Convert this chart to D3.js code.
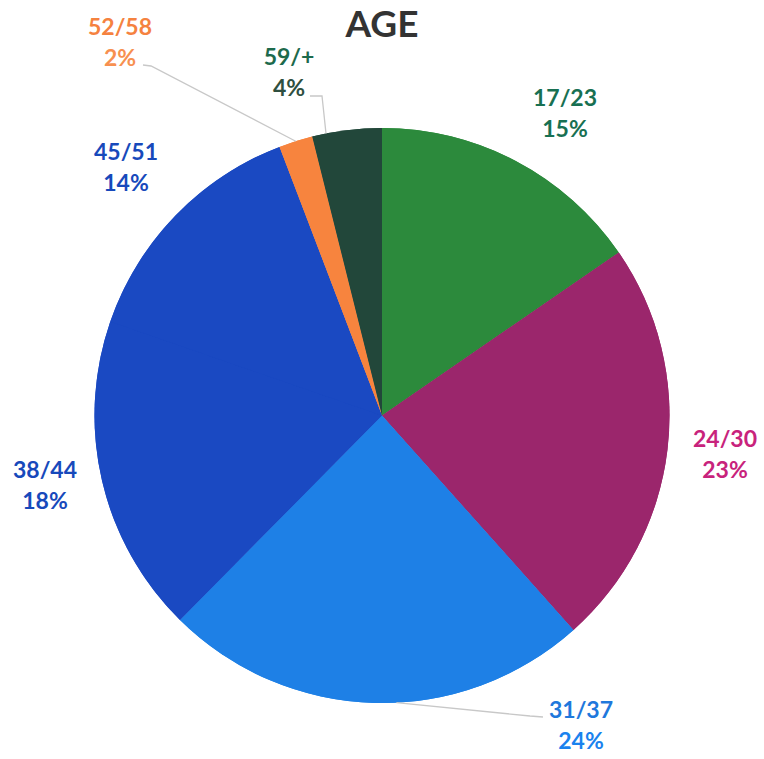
<!DOCTYPE html>
<html>
<head>
<meta charset="utf-8">
<script src="https://cdn.jsdelivr.net/npm/d3@7"></script>
<style>
  body { margin: 0; background: #fff; }
  svg text { font-family: Lato, "Open Sans", sans-serif; font-weight: bold; }
</style>
</head>
<body>
<div id="chart"></div>
<script>
// age groups, clockwise from 12 o'clock
let ageGroups = ['17/23', '24/30', '31/37', '38/44', '45/51', '52/58', '59/+'];
let shares = [15.4, 23.0, 24.0, 17.9, 13.9, 1.9, 3.9]; // % of respondents
let sliceColors = ['#2c8a3c', '#9b266c', '#1e80e6', '#1a49c2', '#1a49c2', '#f7843e', '#22473a'];
let labelColors = ['#187052', '#c8237c', '#1f78dc', '#1749bb', '#1749bb', '#f5823f', '#1d6a4c'];
let pctColors = ['#187052', '#c8237c', '#1a82ee', '#1749bb', '#1749bb', '#f79050', '#2f4f40'];
// label anchor (centre of the two text lines)
let labelPos = [[565, 106], [725, 447], [581, 718], [45, 478], [126, 160], [120, 35], [289, 65]];

let width = 764, height = 759;
let cx = 382, cy = 415.5, r = 287.5;

let svg = d3.select('#chart').append('svg')
    .attr('width', width)
    .attr('height', height);

let data = ageGroups.map((g, i) => ({ group: g, value: shares[i], i: i }));

let pie = d3.pie().sort(null).value(d => d.value);
let arc = d3.arc().innerRadius(0).outerRadius(r);
let arcs = pie(data);

let g = svg.append('g').attr('transform', `translate(${cx},${cy})`);

// neighbouring slices with the same colour are drawn as one piece too,
// so no antialiased seam shows between them
let runs = [];
arcs.forEach(a => {
    let c = sliceColors[a.data.i];
    let last = runs[runs.length - 1];
    if (last && last.color === c) last.endAngle = a.endAngle;
    else runs.push({ color: c, startAngle: a.startAngle, endAngle: a.endAngle });
});
g.selectAll('path.run').data(runs).enter().append('path')
    .attr('class', 'run')
    .attr('d', arc)
    .attr('fill', d => d.color);
g.selectAll('path.slice').data(arcs).enter().append('path')
    .attr('class', 'slice')
    .attr('d', arc)
    .attr('fill', d => sliceColors[d.data.i]);

// leader lines for the small / far labels
let leaders = [
    { i: 5, pts: [[143, 65], [151, 66]], frac: 0.5 },
    { i: 6, pts: [[310, 96], [322, 96]], frac: 0.2 },
    { i: 2, pts: [[543, 717], [530, 716]], frac: 0.45 }
];
leaders.forEach(l => {
    let a = arcs[l.i];
    let ang = a.startAngle + (a.endAngle - a.startAngle) * l.frac;
    let end = [cx + r * Math.sin(ang), cy - r * Math.cos(ang)];
    svg.append('path')
        .attr('d', d3.line()(l.pts.concat([end])))
        .attr('fill', 'none')
        .attr('stroke', '#c8c8c8')
        .attr('stroke-width', 1.3);
});

// labels
let fmt = d3.format('.0f');
let labels = svg.selectAll('g.lbl').data(data).enter().append('g')
    .attr('class', 'lbl')
    .attr('transform', d => `translate(${labelPos[d.i][0]},${labelPos[d.i][1]})`);
labels.append('text')
    .attr('text-anchor', 'middle')
    .attr('font-size', 23)
    .attr('fill', d => labelColors[d.i])
    .text(d => d.group);
labels.append('text')
    .attr('text-anchor', 'middle')
    .attr('y', 31)
    .attr('font-size', 23)
    .attr('fill', d => pctColors[d.i])
    .text(d => fmt(d.value) + '%');

// title
svg.append('text')
    .attr('x', 382)
    .attr('y', 37)
    .attr('text-anchor', 'middle')
    .attr('font-size', 37)
    .attr('fill', '#333')
    .text('AGE');
</script>
</body>
</html>
